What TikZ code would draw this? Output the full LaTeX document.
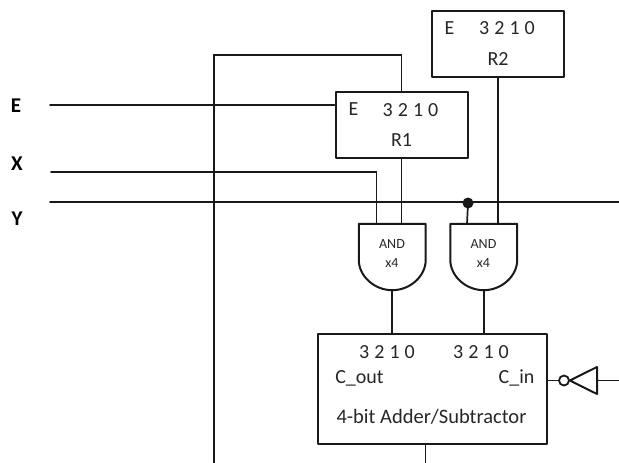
\documentclass[tikz,border=0pt]{standalone}
\usepackage{fontspec}
\usetikzlibrary{calc}
\setmainfont{Carlito}
\newfontfamily\spacedfont[LetterSpace=2.5]{Carlito}
\tikzset{
  wire/.style={line width=1.7pt,black!90,line cap=round},
  boxline/.style={draw,line width=2pt,black!90,line join=round},
  regbox/.style={boxline,rectangle,minimum width=132pt,minimum height=65.5pt,inner sep=0pt},
  gatebody/.style={rectangle,minimum width=66.5pt,minimum height=66pt,inner sep=0pt},
  gateline/.style={line width=2pt,black!90,line join=round},
  txt/.style={inner sep=0pt,font=\fontsize{20}{22}\selectfont,text=black!85},
  nametxt/.style={inner sep=0pt,font=\fontsize{20.5}{22}\selectfont,text=black!85},
  digits/.style={inner sep=0pt,font=\spacedfont\fontsize{20}{22}\selectfont,text=black!85},
  gatetxt/.style={inner sep=0pt,font=\fontsize{14}{16}\selectfont,text=black!85},
  lbl/.style={inner sep=0pt,font=\fontsize{21}{23}\selectfont\bfseries,text=black}
}
\begin{document}
\begin{tikzpicture}[x=1pt,y=-1pt]
\useasboundingbox (0,0) rectangle (619,463);
% boxes
\node[regbox] (r2) at (498,44) {};
\node[regbox] (r1) at (401.5,125) {};
\node[boxline,rectangle,minimum width=228.5pt,minimum height=110pt,inner sep=0pt] (add) at (432.25,389) {};
\node[gatebody] (and1) at (392.25,257) {};
\node[gatebody] (and2) at (483.75,257) {};
\foreach \g in {and1,and2}{
  \draw[gateline] (\g.south) .. controls ($(\g.south)+(-18,0)$) and ($(\g.west)+(0,19)$) .. ($(\g.west)+(0,3)$)
    -- (\g.north west) -- (\g.north east) -- ($(\g.east)+(0,3)$)
    .. controls ($(\g.east)+(0,19)$) and ($(\g.south)+(18,0)$) .. (\g.south);
}
% texts
\node[txt] (r2e) at (449.5,28) {E};
\node[digits] (r2d) at (507,28) {3 2 1 0};
\node[txt] (r2n) at (498,59) {R2};
\node[txt] (r1e) at (353.5,109) {E};
\node[digits] (r1d) at (410.5,110) {3 2 1 0};
\node[txt] (r1n) at (401.5,140) {R1};
\node[gatetxt] (a1a) at (392,244) {AND};
\node[gatetxt] (a1b) at (392,263) {x4};
\node[gatetxt] (a2a) at (483.5,244) {AND};
\node[gatetxt] (a2b) at (483.5,263) {x4};
\node[digits] (d1) at (387,352) {3 2 1 0};
\node[digits] (d2) at (481,352) {3 2 1 0};
\node[txt] (cout) at (359.5,378) {C\_out};
\node[txt] (cin) at (516.5,378) {C\_in};
\node[nametxt] (name) at (431.5,417) {4-bit Adder/Subtractor};
\node[lbl] (le) at (16,106) {E};
\node[lbl] (lx) at (17,164) {X};
\node[lbl] (ly) at (17,219) {Y};
% free ends
\coordinate (ein) at (50,105);
\coordinate (xin) at (51,172);
\coordinate (xdown) at (376.5,223.5);
\coordinate (yin) at (50,202);
\coordinate (yout) at (619,202);
\coordinate (fb) at (214,463);
\coordinate (fbtop) at (214,55);
\coordinate (addout) at (425.5,463);
\coordinate (cinr) at (619,380.5);
% wires
\draw[wire] (fb) -- (fbtop) -| (r1.north);
\draw[wire] (ein) -- (ein -| r1.west);
\draw[wire] (xin) -| (xdown);
\draw[wire] (yin) -- (yout);
\draw[wire] (r1.south) -- (r1.south |- and1.north);
\draw[wire] (r2.south) -- (r2.south |- and2.north);
\node[circle,fill=black!90,minimum size=11pt,inner sep=0pt] (dot) at (468,203) {};
\draw[wire] (dot.center) -- (467,224);
\draw[wire] (and1.south) -- (and1.south |- add.north);
\draw[wire] (and2.south) -- (and2.south |- add.north);
\draw[wire] (addout |- add.south) -- (addout);
% inverter
\node[circle,draw,line width=1.8pt,black!90,minimum size=10pt,inner sep=0pt] (bub) at (564,380.5) {};
\coordinate (tri) at (597,380.5);
\draw[gateline] (bub.east) -- (597,367) -- (597,394) -- cycle;
\draw[wire] (add.east |- bub) -- (bub.west);
\draw[wire] (tri) -- (cinr);
\end{tikzpicture}
\end{document}
